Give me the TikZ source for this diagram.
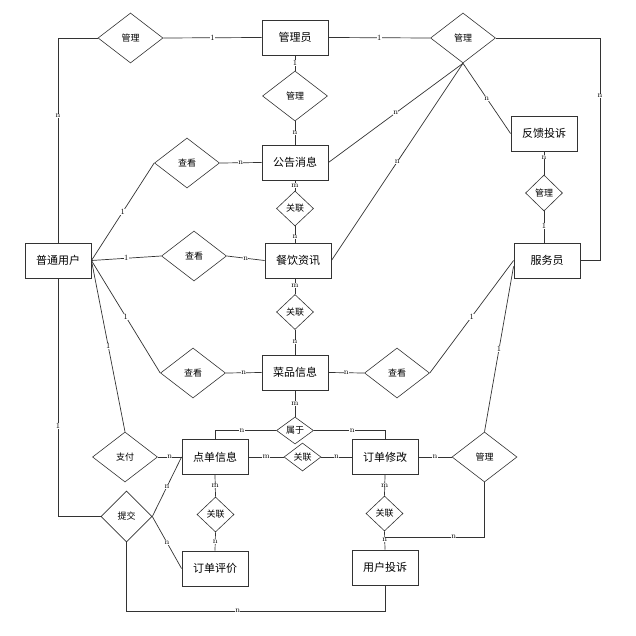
\documentclass[tikz,border=0pt]{standalone}
\usepackage{fontspec}
\newfontfamily\cjk{Noto Sans CJK SC}
\usetikzlibrary{shapes.geometric}
\begin{document}
\begin{tikzpicture}[x=1pt,y=-1pt,
  ent/.style={draw=black!80,line width=0.9pt,rectangle,minimum width=66pt,minimum height=35pt,inner sep=0pt,font=\cjk\fontsize{11}{12}\selectfont},
  rel/.style={draw=black!80,line width=0.6pt,diamond,minimum width=65pt,minimum height=50pt,inner sep=0pt,font=\cjk\fontsize{9}{10}\selectfont},
  srel/.style={rel,minimum width=37pt,minimum height=35pt},
  ln/.style={draw=black!80,line width=0.7pt},
  lab/.style={fill=white,inner sep=0.4pt,font=\fontsize{8}{8}\selectfont}]
\useasboundingbox (0,0) rectangle (635,636);
% entities
\node[ent] (gly) at (295,37.5) {管理员};
\node[ent] (gg) at (295,162.5) {公告消息};
\node[ent] (cy) at (298,260.5) {餐饮资讯};
\node[ent] (cp) at (295,372.5) {菜品信息};
\node[ent] (yh) at (58,260.5) {普通用户};
\node[ent] (fwy) at (547,260.5) {服务员};
\node[ent] (fk) at (544,133.5) {反馈投诉};
\node[ent] (dd) at (215,457) {点单信息};
\node[ent] (xg) at (385,457) {订单修改};
\node[ent] (pj) at (215,568.5) {订单评价};
\node[ent] (ts) at (385,567.5) {用户投诉};
% relationships
\node[rel] (gl1) at (130.5,38) {管理};
\node[rel] (gl2) at (463,38) {管理};
\node[rel] (gl3) at (295,96) {管理};
\node[rel] (ck1) at (187,163) {查看};
\node[rel] (ck2) at (194,256) {查看};
\node[rel] (ck3) at (193,373) {查看};
\node[rel] (ck4) at (397,373) {查看};
\node[srel] (gla) at (295,208.5) {关联};
\node[srel] (glb) at (295,312) {关联};
\node[srel,minimum height=27pt] (sy) at (295,430.5) {属于};
\node[srel,minimum height=28pt] (gl4) at (302.5,457) {关联};
\node[rel] (zf) at (125,457) {支付};
\node[rel,minimum width=51pt,minimum height=51pt] (tj) at (126.5,516.5) {提交};
\node[srel] (gl5) at (215.5,514.5) {关联};
\node[srel] (gl6) at (384.5,513.5) {关联};
\node[rel] (gl7) at (484.5,457) {管理};
\node[srel,minimum height=36pt] (gl8) at (544,193) {管理};
% helper coordinates
\coordinate (r4) at (600,38);
\coordinate (bot) at (0,611);
\coordinate (j7) at (385,537);
% connectors
\draw[ln] (yh.north) |- node[lab,pos=0.31]{n} (gl1.west);
\draw[ln] (gl1.east) -- node[lab]{1} (gly.west);
\draw[ln] (gly.east) -- node[lab]{1} (gl2.west);
\draw[ln] (gl2.east) -- (r4) -- node[lab,pos=0.26]{n} (r4 |- fwy.east) -- (fwy.east);
\draw[ln] (gl2.south) -- node[lab]{n} (fk.west);
\draw[ln] (gl2.south) -- node[lab]{n} (gg.east);
\draw[ln] (gl2.south) -- node[lab]{n} (cy.east);
\draw[ln] (gly.south) -- node[lab]{1} (gl3.north);
\draw[ln] (gl3.south) -- node[lab]{n} (gg.north);
\draw[ln] (yh.east) -- node[lab]{1} (ck1.west);
\draw[ln] (ck1.east) -- node[lab]{n} (gg.west);
\draw[ln] (yh.east) -- node[lab]{1} (ck2.west);
\draw[ln] (ck2.east) -- node[lab]{n} (cy.west);
\draw[ln] (yh.east) -- node[lab]{1} (ck3.west);
\draw[ln] (ck3.east) -- node[lab]{n} (cp.west);
\draw[ln] (yh.east) -- node[lab]{1} (zf.north);
\draw[ln] (yh.south) |- node[lab,pos=0.31]{1} (tj.west);
\draw[ln] (zf.east) -- node[lab]{n} (dd.west);
\draw[ln] (dd.west) -- node[lab]{n} (tj.east);
\draw[ln] (tj.east) -- node[lab]{n} (pj.west);
\draw[ln] (tj.south) -- (tj.south |- bot) -- node[lab,pos=0.43]{n} (ts.south |- bot) -- (ts.south);
\draw[ln] (dd.east) -- node[lab]{m} (gl4.west);
\draw[ln] (gl4.east) -- node[lab]{n} (xg.west);
\draw[ln] (cp.south) -- node[lab]{m} (sy.north);
\draw[ln] (sy.west) -| node[lab,pos=0.28]{n} (dd.north);
\draw[ln] (sy.east) -| node[lab,pos=0.27]{n} (xg.north);
\draw[ln] (dd.south) -- node[lab]{m} (gl5.north);
\draw[ln] (gl5.south) -- node[lab]{n} (pj.north);
\draw[ln] (xg.south) -- node[lab]{m} (gl6.north);
\draw[ln] (gl6.south) -- node[lab,pos=0.45]{n} (ts.north);
\draw[ln] (gl7.south) |- node[lab,pos=0.655]{n} (j7);
\draw[ln] (xg.east) -- node[lab]{n} (gl7.west);
\draw[ln] (fwy.west) -- node[lab]{1} (ck4.east);
\draw[ln] (ck4.west) -- node[lab]{n} (cp.east);
\draw[ln] (fwy.190) -- node[lab]{1} (gl7.north);
\draw[ln] (gg.south) -- node[lab]{m} (gla.north);
\draw[ln] (gla.south) -- node[lab,pos=0.65]{n} (gla.south |- cy.north);
\draw[ln] (cy.south -| glb.north) -- node[lab,pos=0.45]{m} (glb.north);
\draw[ln] (glb.south) -- node[lab,pos=0.5]{n} (cp.north);
\draw[ln] (fk.south) -- node[lab,pos=0.25]{n} (gl8.north);
\draw[ln] (gl8.south) -- node[lab,pos=0.47]{1} (gl8.south |- fwy.north);
\end{tikzpicture}
\end{document}
